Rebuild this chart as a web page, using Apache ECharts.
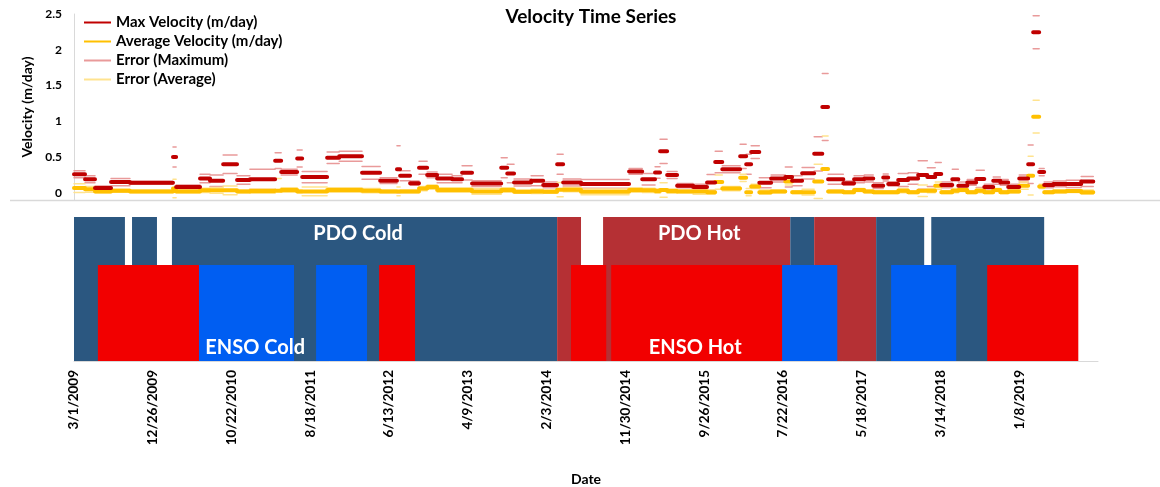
<!DOCTYPE html>
<html>
<head>
<meta charset="utf-8">
<script src="https://cdn.jsdelivr.net/npm/echarts@6/dist/echarts.min.js"></script>
<style>
  html, body { margin: 0; padding: 0; background: #ffffff; }
  #chart { width: 1160px; height: 487px; }
</style>
</head>
<body>
<div id="chart"></div>
<script>
// ---------- DATA (days counted from 3/1/2009) ----------
const tickLabels = ['3/1/2009', '12/26/2009', '10/22/2010', '8/18/2011', '6/13/2012', '4/9/2013',
  '2/3/2014', '11/30/2014', '9/26/2015', '7/22/2016', '5/18/2017', '3/14/2018', '1/8/2019'];

const segStart = [0, 42, 80, 141, 213, 377, 389, 480, 518, 568, 621, 670, 766, 789, 850, 869, 964, 1010, 1097, 1166,
  1230, 1242, 1280, 1314, 1345, 1383, 1440, 1478, 1516, 1627, 1650, 1676, 1741, 1787, 1840, 1863, 1931, 2114, 2164, 2213,
  2232, 2259, 2297, 2358, 2411, 2442, 2469, 2537, 2560, 2579, 2610, 2655, 2709, 2735, 2773, 2819, 2850, 2872, 2930, 2971,
  3010, 3044, 3082, 3101, 3139, 3177, 3215, 3250, 3280, 3303, 3345, 3368, 3402, 3436, 3467, 3501, 3528, 3558, 3600, 3634,
  3653, 3676, 3695, 3730, 3779, 3836];
const segEnd = [42, 80, 141, 213, 377, 389, 480, 518, 568, 621, 670, 766, 789, 850, 869, 964, 1010, 1097, 1166, 1230,
  1242, 1280, 1314, 1345, 1383, 1440, 1478, 1516, 1627, 1650, 1676, 1741, 1787, 1840, 1863, 1931, 2114, 2164, 2213, 2232,
  2259, 2297, 2358, 2411, 2442, 2469, 2537, 2560, 2579, 2610, 2655, 2709, 2735, 2773, 2819, 2850, 2872, 2930, 2971, 3010,
  3044, 3082, 3101, 3139, 3177, 3215, 3250, 3280, 3303, 3345, 3368, 3402, 3436, 3467, 3501, 3528, 3558, 3600, 3634, 3653,
  3676, 3695, 3730, 3779, 3836, 3882];
const maxVelocity = [0.26, 0.19, 0.066, 0.15, 0.14, 0.50, 0.08, 0.20, 0.17, 0.40, 0.18, 0.19, 0.45, 0.29, 0.48, 0.22, 0.49, 0.51, 0.28, 0.17,
  0.33, 0.24, 0.135, 0.35, 0.25, 0.20, 0.19, 0.28, 0.13, 0.35, 0.27, 0.145, 0.17, 0.11, 0.40, 0.145, 0.125, 0.30, 0.19, 0.285,
  0.58, 0.25, 0.10, 0.08, 0.145, 0.43, 0.33, 0.51, 0.40, 0.57, 0.14, 0.20, 0.22, 0.17, 0.275, 0.545, 1.20, 0.19, 0.135, 0.19,
  0.20, 0.10, 0.215, 0.125, 0.18, 0.20, 0.25, 0.22, 0.265, 0.11, 0.19, 0.10, 0.145, 0.195, 0.08, 0.17, 0.145, 0.08, 0.20, 0.40,
  2.245, 0.29, 0.11, 0.125, 0.125, 0.16];
const maxError = [0.05, 0.05, 0.03, 0.05, 0.02, 0.14, 0.03, 0.06, 0.08, 0.13, 0.06, 0.14, 0.11, 0.04, 0.12, 0.08, 0.08, 0.07, 0.09, 0.04,
  0.33, 0.07, 0.03, 0.09, 0.04, 0.06, 0.05, 0.10, 0.04, 0.14, 0.13, 0.05, 0.07, 0.04, 0.14, 0.05, 0.06, 0.04, 0.08, 0.08,
  0.17, 0.05, 0.03, 0.04, 0.11, 0.15, 0.05, 0.17, 0.14, 0.09, 0.07, 0.05, 0.14, 0.07, 0.08, 0.24, 0.47, 0.07, 0.03, 0.05,
  0.05, 0.04, 0.05, 0.03, 0.09, 0.08, 0.20, 0.13, 0.16, 0.04, 0.14, 0.05, 0.04, 0.12, 0.04, 0.05, 0.04, 0.04, 0.05, 0.27,
  0.23, 0.05, 0.04, 0.04, 0.05, 0.07];
const avgVelocity = [0.066, 0.05, 0.02, 0.03, 0.02, 0.06, 0.02, 0.035, 0.035, 0.035, 0.02, 0.025, 0.03, 0.04, 0.02, 0.02, 0.04, 0.04, 0.03, 0.02,
  0.02, 0.02, 0.02, 0.06, 0.08, 0.04, 0.04, 0.04, 0.02, 0.04, 0.04, 0.015, 0.02, 0.015, 0.045, 0.045, 0.015, 0.04, 0.035, 0.025,
  0.04, 0.025, 0.02, 0.02, 0.01, 0.15, 0.06, 0.21, 0.01, 0.09, 0.01, 0.02, 0.16, 0.01, 0.01, 0.16, 0.335, 0.02, 0.01, 0.04,
  0.02, 0.01, 0.01, 0.01, 0.03, 0.01, 0.03, 0.03, 0.10, 0.01, 0.03, 0.04, 0.01, 0.03, 0.01, 0.04, 0.01, 0.02, 0.10, 0.24,
  1.065, 0.09, 0.01, 0.02, 0.025, 0.01];
const avgError = [0.06, 0.04, 0.02, 0.02, 0.02, 0.13, 0.02, 0.03, 0.04, 0.06, 0.02, 0.03, 0.17, 0.03, 0.02, 0.06, 0.03, 0.03, 0.03, 0.02,
  0.06, 0.02, 0.02, 0.03, 0.03, 0.03, 0.03, 0.03, 0.04, 0.03, 0.03, 0.02, 0.03, 0.02, 0.10, 0.03, 0.04, 0.03, 0.03, 0.03,
  0.10, 0.03, 0.02, 0.04, 0.03, 0.10, 0.03, 0.05, 0.05, 0.03, 0.03, 0.02, 0.05, 0.02, 0.04, 0.24, 0.46, 0.02, 0.02, 0.02,
  0.02, 0.02, 0.02, 0.02, 0.03, 0.02, 0.08, 0.03, 0.05, 0.02, 0.03, 0.02, 0.02, 0.03, 0.02, 0.02, 0.02, 0.02, 0.05, 0.27,
  0.23, 0.03, 0.02, 0.02, 0.02, 0.03];

// PDO phases (row height 3) and ENSO phases (row height 2)
const pdoStart = [0, 221, 373, 1840, 2015, 2728, 2819, 3055, 3265];
const pdoEnd   = [194, 316, 1840, 1931, 2728, 2819, 3055, 3238, 3695];
const pdoPhase = ['Cold', 'Cold', 'Cold', 'Hot', 'Hot', 'Cold', 'Hot', 'Cold', 'Cold'];
const ensoStart = [91, 476, 922, 1162, 1893, 2046, 2697, 3112, 3478];
const ensoEnd   = [476, 838, 1116, 1299, 2027, 2697, 2907, 3360, 3825];
const ensoPhase = ['Hot', 'Cold', 'Cold', 'Hot', 'Hot', 'Hot', 'Cold', 'Cold', 'Hot'];

const phaseLabels = ['PDO Cold', 'PDO Hot', 'ENSO Cold', 'ENSO Hot'];
const phaseLabelDay = [1082, 2381, 690, 2366];
const phaseLabelLevel = [2.66, 2.66, 0.27, 0.27];

// ---------- BUILD ----------
const FONT = 'Lato, "Open Sans", "Noto Sans", sans-serif';
function segLine(values, offsets, sign) {
  const out = [];
  for (let i = 0; i < values.length; i++) {
    const v = values[i] + (offsets ? sign * offsets[i] : 0);
    out.push([segStart[i], v], [segEnd[i], v], [segEnd[i], null]);
  }
  return out;
}
const colors = {
  max: '#C00000', avg: '#FFC000', maxErr: '#E99A9A', avgErr: '#FFE38F',
  pdoCold: '#2B5780', pdoHot: '#B53034', ensoCold: '#005EF2', ensoHot: '#F20000'
};
function lineSeries(name, data, color, width, z) {
  return {
    name, type: 'line', xAxisIndex: 0, yAxisIndex: 0, data,
    showSymbol: false, symbol: 'none', connectNulls: false, z,
    lineStyle: { color, width, cap: 'round' }, itemStyle: { color },
    animation: false, silent: true
  };
}
function rectSeries(starts, ends, phases, top, hotColor, coldColor) {
  return {
    type: 'custom', xAxisIndex: 1, yAxisIndex: 1, animation: false, silent: true,
    data: starts.map((s, i) => [s, ends[i], top, phases[i] === 'Hot' ? 1 : 0]),
    encode: { x: [0, 1], y: 2 },
    renderItem: (params, api) => {
      const p0 = api.coord([api.value(0), api.value(2)]);
      const p1 = api.coord([api.value(1), 0]);
      return {
        type: 'rect',
        shape: { x: p0[0], y: p0[1], width: p1[0] - p0[0], height: p1[1] - p0[1] },
        style: { fill: api.value(3) === 1 ? hotColor : coldColor }
      };
    }
  };
}

const chart = echarts.init(document.getElementById('chart'), null, { renderer: 'canvas' });
chart.setOption({
  backgroundColor: '#ffffff',
  animation: false,
  title: {
    text: 'Velocity Time Series', left: 586, top: 2, textAlign: 'center',
    textStyle: { fontFamily: FONT, fontWeight: 'bold', fontSize: 19, color: '#000' }
  },
  legend: {
    orient: 'vertical', left: 83, top: 15, padding: 0, itemWidth: 27, itemHeight: 14, itemGap: 4,
    data: ['Max Velocity (m/day)', 'Average Velocity (m/day)', 'Error (Maximum)', 'Error (Average)'],
    itemStyle: { opacity: 0, color: 'rgba(0,0,0,0)', borderWidth: 0 },
    lineStyle: { cap: 'butt' },
    textStyle: { fontFamily: FONT, fontWeight: 'bold', fontSize: 15, color: '#000' },
    selectedMode: false
  },
  grid: [
    { left: 74, width: 1024, top: 14, height: 186 },
    { left: 74, width: 1024, top: 217, height: 148 }
  ],
  xAxis: [
    { type: 'value', gridIndex: 0, min: 0, max: 3900, show: false },
    {
      type: 'value', gridIndex: 1, min: 0, max: 3900, interval: 300,
      name: 'Date', nameLocation: 'middle', nameGap: 111,
      nameTextStyle: { fontFamily: FONT, fontWeight: 'bold', fontSize: 14, color: '#000' },
      axisLine: { show: true, lineStyle: { color: '#D9D9D9', width: 1 } },
      axisTick: { show: false }, splitLine: { show: false },
      axisLabel: {
        rotate: 90, margin: 9, fontFamily: FONT, fontWeight: 'bold', fontSize: 13.5, color: '#000',
        formatter: v => tickLabels[Math.round(v / 300)] || ''
      }
    }
  ],
  yAxis: [
    {
      type: 'value', gridIndex: 0, min: -0.1, max: 2.5, interval: 0.1,
      name: 'Velocity (m/day)', nameLocation: 'middle', nameGap: 40, nameRotate: 90,
      nameTextStyle: { fontFamily: FONT, fontWeight: 'bold', fontSize: 14, color: '#000' },
      axisLine: { show: true, lineStyle: { color: '#D9D9D9', width: 1 } },
      axisTick: { show: false }, splitLine: { show: false },
      axisLabel: {
        margin: 12, fontFamily: FONT, fontWeight: 'bold', fontSize: 12, color: '#000',
        formatter: v => (Math.abs(v * 2 - Math.round(v * 2)) < 1e-6 && v > -0.05) ? String(+v.toFixed(1)) : ''
      }
    },
    { type: 'value', gridIndex: 1, min: 0, max: 3, show: false }
  ],
  graphic: [
    { type: 'line', shape: { x1: 10, y1: 200.5, x2: 1160, y2: 200.5 }, style: { stroke: '#D9D9D9', lineWidth: 1.5 }, silent: true, z: 100 }
  ],
  series: [
    lineSeries('Error (Maximum)', segLine(maxVelocity, maxError, 1), colors.maxErr, 1.5, 2),
    lineSeries('Error (Maximum)', segLine(maxVelocity, maxError, -1), colors.maxErr, 1.5, 2),
    lineSeries('Error (Average)', segLine(avgVelocity, avgError, 1), colors.avgErr, 1.5, 2),
    lineSeries('Error (Average)', segLine(avgVelocity, avgError, -1), colors.avgErr, 1.5, 2),
    lineSeries('Average Velocity (m/day)', segLine(avgVelocity), colors.avg, 4, 3),
    lineSeries('Max Velocity (m/day)', segLine(maxVelocity), colors.max, 4, 4),
    rectSeries(pdoStart, pdoEnd, pdoPhase, 3, colors.pdoHot, colors.pdoCold),
    rectSeries(ensoStart, ensoEnd, ensoPhase, 2, colors.ensoHot, colors.ensoCold),
    {
      type: 'custom', xAxisIndex: 1, yAxisIndex: 1, animation: false, silent: true, z: 10,
      data: phaseLabels.map((t, i) => [phaseLabelDay[i], phaseLabelLevel[i], i]),
      encode: { x: 0, y: 1 },
      renderItem: (params, api) => {
        const p = api.coord([api.value(0), api.value(1)]);
        return {
          type: 'text', x: p[0], y: p[1],
          style: {
            text: phaseLabels[api.value(2)], fill: '#ffffff', align: 'center', verticalAlign: 'middle',
            font: 'bold 20px ' + FONT
          }
        };
      }
    }
  ]
});
</script>
</body>
</html>
